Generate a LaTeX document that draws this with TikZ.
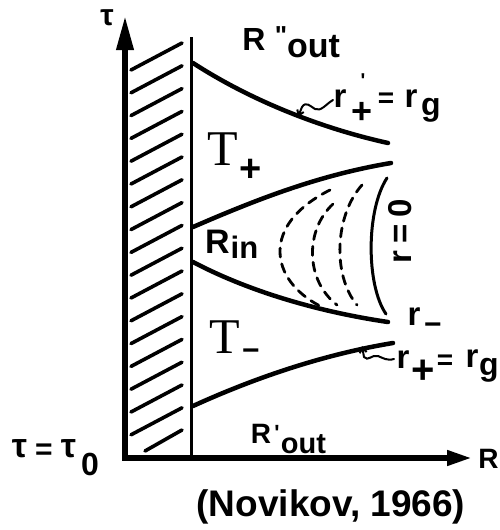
\documentclass[tikz,border=0pt]{standalone}
\usepackage{fontspec}
\newfontfamily\lf{Liberation Sans}
\newfontfamily\tf{Liberation Serif}
\usetikzlibrary{arrows.meta}
\begin{document}
\begin{tikzpicture}[x=1pt,y=-1pt,
  lbl/.style={inner sep=0pt,outer sep=0pt},
  fs/.style={font=\lf\bfseries\fontsize{#1}{#1}\selectfont},
  ts/.style={font=\tf\fontsize{#1}{#1}\selectfont},
  axis/.style={line width=6.5pt,line join=miter},
  bound/.style={line width=4.5pt,line cap=round},
  hatch/.style={line width=3.6pt,line cap=round},
  dsh/.style={line width=2.8pt,line cap=round,dash pattern=on 9pt off 7pt},
  ptr/.style={line width=2pt,line cap=round}]
\useasboundingbox (0,0) rectangle (499,530);
% axes
\coordinate (top) at (125,15);
\coordinate (O) at (125,458);
\coordinate (right) at (473,458);
\draw[axis,{Triangle[length=35pt,width=16pt]}-{Triangle[length=26pt,width=14pt]}] (top) -- (O) -- (right);
% thin vertical wall
\coordinate (wt) at (191.5,37);
\coordinate (wb) at (191.5,458);
\draw[line width=3pt] (wt) -- (wb);
% hatching
\foreach \i in {0,...,16}{
  \draw[hatch] (131,{70+22.8*\i}) -- (182,{43+22.8*\i});
}
\draw[hatch] (145,451) -- (182,430);
% boundary curves
\coordinate (u0) at (193,63);   \coordinate (u1) at (388,143);
\coordinate (v0) at (193,227);  \coordinate (v1) at (391,163);
\coordinate (w0) at (193,262);  \coordinate (w1) at (388,322);
\coordinate (z0) at (193,406);  \coordinate (z1) at (393,343);
\draw[bound] (u0) .. controls (250,100) and (320,128) .. (u1);
\draw[bound] (v0) .. controls (260,198) and (320,175) .. (v1);
\draw[bound] (w0) .. controls (250,292) and (320,312) .. (w1);
\draw[bound] (z0) .. controls (250,380) and (320,355) .. (z1);
% dashed curves
\draw[dsh] (330,190) .. controls (260,225) and (270,280) .. (320,306);
\draw[dsh] (333,204) .. controls (305,230) and (305,280) .. (337,305);
\draw[dsh] (362,185) .. controls (335,215) and (332,275) .. (357,305);
% r=0
\draw[line width=3pt,line cap=round] (387,178) .. controls (366,210) and (366,285) .. (386,314);
% pointers
\draw[ptr,{Straight Barb[length=5pt,width=7pt]}-] (298,117) -- (302,107) .. controls (306,101) and (310,106) .. (315,109) .. controls (321,112) and (326,104) .. (333,100);
\draw[ptr,{Straight Barb[length=5pt,width=7pt]}-] (362,346) -- (364,357) .. controls (368,362) and (372,354) .. (378,356) .. controls (383,358) and (387,361) .. (394,359);
% labels
\node[lbl,fs=30] (tauA) at (107,18) {τ};
\node[lbl,fs=32] (Ro1) at (254,39) {R};
\node[lbl,fs=26,anchor=north] (Ro1q) at (281,27) {"};
\node[lbl,fs=34] (Ro1s) at (313.5,47) {out};
\node[lbl,fs=33] (ra) at (340,99) {r};
\node[lbl,fs=20,anchor=north] (rap) at (363,74) {'};
\node[lbl,fs=36,anchor=north] (ras) at (362,102) {+};
\node[lbl,fs=28,anchor=north] (eqa) at (386,93) {=};
\node[lbl,fs=33] (rb) at (411,99) {r};
\node[lbl,fs=32] (ga) at (431,110) {g};
\node[lbl,ts=50] (Tp) at (223,149) {T};
\node[lbl,fs=38,anchor=north] (Tps) at (251,159) {+};
\node[lbl,fs=34] (Rin) at (217.5,242) {R};
\node[lbl,fs=31] (Rins) at (244.5,247) {in};
\node[lbl,fs=33,rotate=90] (rzero) at (400.5,231) {r\hspace{7pt}=\hspace{7pt}0};
\node[lbl,fs=33] (rm) at (414,317) {r};
\node[lbl,fs=30,anchor=north] (rms) at (433,323) {−};
\node[lbl,ts=50] (Tm) at (225,337) {T};
\node[lbl,fs=30,anchor=north] (Tms) at (251,349) {−};
\node[lbl,fs=33] (rc) at (403,360) {r};
\node[lbl,fs=40,anchor=north] (rcs) at (423,360) {+};
\node[lbl,fs=28,anchor=north] (eqb) at (445,355) {=};
\node[lbl,fs=33] (rd) at (472,359) {r};
\node[lbl,fs=32] (gb) at (489,370) {g};
\node[lbl,fs=28] (Ro2) at (261,433.5) {R};
\node[lbl,fs=22,anchor=north] (Ro2p) at (277,425) {'};
\node[lbl,fs=29] (Ro2s) at (303.5,444) {out};
\node[lbl,fs=28] (Rax) at (488.5,459) {R};
\node[lbl,fs=34] (ta) at (19.5,449) {τ};
\node[lbl,fs=30,anchor=north] (teq) at (44,444) {=};
\node[lbl,fs=34] (tb) at (68.5,449) {τ};
\node[lbl,fs=32] (tz) at (90,464) {0};
\node[lbl,fs=37] (cap) at (331,507) {(Novikov, 1966)};
\end{tikzpicture}
\end{document}
